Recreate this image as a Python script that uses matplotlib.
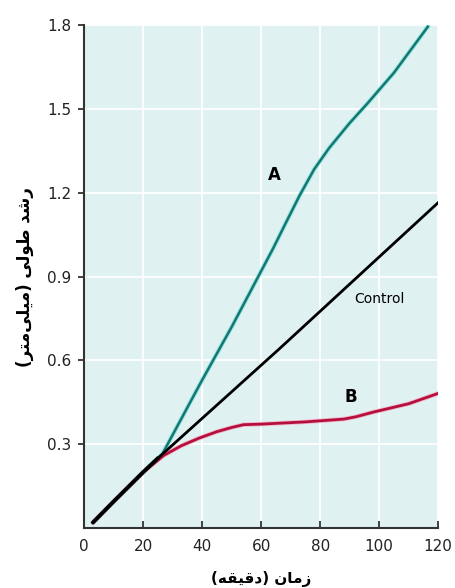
import matplotlib
matplotlib.use("Agg")
import matplotlib.pyplot as plt

# Data
time_a = [3, 10, 20, 26.5, 40, 50, 55, 60, 64, 68, 73, 78, 83, 90, 96, 105, 116.5]
growth_a = [0.02, 0.095, 0.20, 0.265, 0.53, 0.72, 0.82, 0.92, 1.00, 1.085, 1.19, 1.285, 1.36, 1.45, 1.52, 1.63, 1.795]

time_control = [3, 10, 20, 25, 66, 120]
growth_control = [0.02, 0.095, 0.20, 0.25, 0.64, 1.165]

time_b = [3, 10, 20, 27, 33, 39, 45, 50, 54, 60, 75, 88, 92, 98, 110, 120]
growth_b = [0.02, 0.095, 0.20, 0.26, 0.295, 0.322, 0.345, 0.36, 0.37, 0.372, 0.38, 0.39, 0.398, 0.415, 0.445, 0.482]

x_ticks = [0, 20, 40, 60, 80, 100, 120]
y_ticks = [0.3, 0.6, 0.9, 1.2, 1.5, 1.8]
y_tick_labels = ["0.3", "0.6", "0.9", "1.2", "1.5", "1.8"]

labels = {"A": (64.5, 1.265), "Control": (100, 0.82), "B": (90.5, 0.47)}

# Persian axis labels (pre-shaped presentation forms, visual order)
xlabel_text = "(\uFEEA\uFED8\uFEF4\uFED7\uFEA9) \uFEE5\uFE8E\uFEE3\uFEAF"
ylabel_text = ("(\uFEAE\uFE98\uFEE3\uFEF0\uFEE0\uFEF4\uFEE3) "
               "\uFEF0\uFEDF\uFEEE\uFEC3 \uFEAA\uFEB7\uFEAD")

plt.rcParams['font.family'] = ['DejaVu Sans']

fig = plt.figure(figsize=(4.55, 5.88), dpi=100)
ax = fig.add_axes([0.185, 0.102, 0.778, 0.855])
ax.set_facecolor("#dff1f1")

ax.set_xlim(0, 120)
ax.set_ylim(0, 1.8)

ax.set_xticks(x_ticks)
ax.set_yticks(y_ticks)
ax.set_yticklabels(y_tick_labels)
ax.grid(True, color="white", linewidth=1.3)
ax.set_axisbelow(True)

for s in ["top", "right"]:
    ax.spines[s].set_visible(False)
for s in ["left", "bottom"]:
    ax.spines[s].set_color("#333333")
    ax.spines[s].set_linewidth(1.5)

ax.tick_params(axis="x", direction="in", length=5, width=1.3, color="#333333",
               labelsize=11, labelcolor="#222222", pad=8)
ax.tick_params(axis="y", direction="out", length=4, width=1.3, color="#333333",
               labelsize=11, labelcolor="#222222", pad=5)

ax.plot(time_a, growth_a, color="#7fe0e0", linewidth=3.2, zorder=3, alpha=0.7,
        solid_joinstyle="round")
ax.plot(time_a, growth_a, color="#137870", linewidth=1.8, zorder=4,
        solid_joinstyle="round")
ax.plot(time_b, growth_b, color="#ff8fb0", linewidth=3.2, zorder=3, alpha=0.6,
        solid_joinstyle="round")
ax.plot(time_b, growth_b, color="#b5103d", linewidth=2, zorder=4,
        solid_joinstyle="round")
ax.plot(time_control, growth_control, color="black", linewidth=2, zorder=5,
        solid_joinstyle="round")
ax.plot(time_control[:4], growth_control[:4], color="black", linewidth=2.8, zorder=6,
        solid_capstyle="round")

ax.text(*labels["A"], "A", fontsize=12, fontweight="bold", ha="center", va="center")
ax.text(*labels["Control"], "Control", fontsize=10, ha="center", va="center")
ax.text(*labels["B"], "B", fontsize=12, fontweight="bold", ha="center", va="center")

ax.set_xlabel(xlabel_text, fontsize=11, fontweight="bold", labelpad=12)
ax.set_ylabel(ylabel_text, fontsize=12, fontweight="bold", labelpad=10)

fig.savefig("out.png", dpi=100)
